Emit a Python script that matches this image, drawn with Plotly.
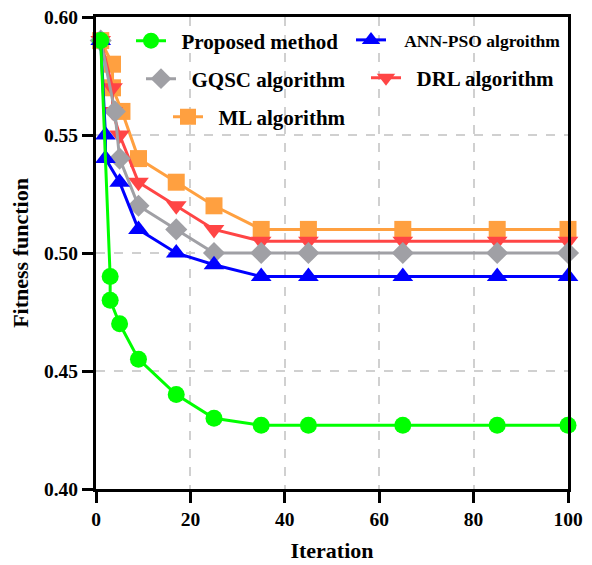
import plotly.graph_objects as go

# ---- data ----
x_proposed = [1, 3, 3, 5, 9, 17, 25, 35, 45, 65, 85, 100]
y_proposed = [0.59, 0.49, 0.48, 0.47, 0.455, 0.44, 0.43, 0.427, 0.427, 0.427, 0.427, 0.427]

x_annpso = [1, 2, 2, 5, 9, 17, 25, 35, 45, 65, 85, 100]
y_annpso = [0.59, 0.55, 0.54, 0.53, 0.51, 0.50, 0.495, 0.49, 0.49, 0.49, 0.49, 0.49]

x_gqsc = [1, 4, 5, 9, 17, 25, 35, 45, 65, 85, 100]
y_gqsc = [0.59, 0.56, 0.54, 0.52, 0.51, 0.50, 0.50, 0.50, 0.50, 0.50, 0.50]

x_drl = [1, 3.5, 3.5, 5, 9, 17, 25, 35, 45, 65, 85, 100]
y_drl = [0.59, 0.57, 0.56, 0.55, 0.53, 0.52, 0.51, 0.505, 0.505, 0.505, 0.505, 0.505]

x_ml = [1, 3.5, 3.5, 5.5, 9, 17, 25, 35, 45, 65, 85, 100]
y_ml = [0.59, 0.58, 0.57, 0.56, 0.54, 0.53, 0.52, 0.51, 0.51, 0.51, 0.51, 0.51]

x_ticks = [0, 20, 40, 60, 80, 100]
y_ticks = [0.40, 0.45, 0.50, 0.55, 0.60]

FONT = "Liberation Serif"

# page offset of the figure (browser default body margin)
OFF = 8
W, H = 592 - OFF, 565 - OFF
PL, PR, PT, PB = 96, 568, 17, 489          # plot area in page pixels
ML_, MT_ = PL - OFF, PT - OFF
MR_, MB_ = W - (PR - OFF), H - (PB - OFF)
PW, PH = PR - PL, PB - PT


def px2paper(px, py):
    return (px - PL) / PW, (PB - py) / PH


NB = "\u00a0\u00a0"
series = [
    # name, x, y, color, symbol, size, legend, (marker px, y px), font size
    ("ML algorithm", x_ml, y_ml, "#FFA040", "square", 17, "legend5", (185, 117), 21),
    ("DRL algorithm", x_drl, y_drl, "#FF4545", "triangle-down", 18, "legend4", (383, 78), 21),
    ("GQSC algorithm", x_gqsc, y_gqsc, "#A0A0A5", "diamond", 17, "legend3", (158, 79), 21),
    ("ANN-PSO algroithm", x_annpso, y_annpso, "#0000FF", "triangle-up", 18, "legend2", (368, 40), 17.5),
    ("Proposed method", x_proposed, y_proposed, "#00FF00", "circle", 17, "legend", (148, 41), 21),
]

fig = go.Figure()
layout_legends = {}
for name, xs, ys, col, sym, size, lg, (mx, my), fs in series:
    pad = NB + ("\u00a0" if fs < 20 else "")
    fig.add_trace(go.Scatter(
        x=xs, y=ys, mode="lines+markers", name=pad + name,
        line=dict(color=col, width=3),
        marker=dict(color=col, symbol=sym, size=size, line=dict(width=0)),
        cliponaxis=False, legend=lg, showlegend=True,
    ))
    lx, ly = px2paper(mx - 17, my)
    layout_legends[lg] = dict(
        x=lx, y=ly, xanchor="left", yanchor="middle",
        bgcolor="rgba(0,0,0,0)", borderwidth=0,
        font=dict(family=FONT, size=fs, color="black", weight="bold"),
        itemsizing="trace", itemwidth=30,
    )

axis_common = dict(
    showline=True, linecolor="black", linewidth=3, mirror=True,
    ticks="outside", ticklen=11, tickwidth=3, tickcolor="black",
    showgrid=True, gridcolor="#D0D0D0", griddash="dash", gridwidth=2,
    zeroline=False, automargin=False, ticklabeloverflow="allow",
    tickfont=dict(family=FONT, size=19.5, color="black", weight="bold"),
)

fig.update_layout(
    width=W, height=H,
    margin=dict(l=ML_, r=MR_, t=MT_, b=MB_, autoexpand=False),
    paper_bgcolor="white", plot_bgcolor="white",
    showlegend=True,
    xaxis=dict(range=[0, 100], tickvals=x_ticks, ticktext=[str(v) for v in x_ticks],
               title=dict(text="Iteration", standoff=14,
                          font=dict(family=FONT, size=22, color="black", weight="bold")),
               **axis_common),
    yaxis=dict(range=[0.40, 0.60], tickvals=y_ticks, ticktext=[f"{v:.2f}" for v in y_ticks],
               title=dict(text="Fitness function", standoff=10,
                          font=dict(family=FONT, size=22, color="black", weight="bold")),
               **axis_common),
    **layout_legends,
)

fig.write_html("out.html")
